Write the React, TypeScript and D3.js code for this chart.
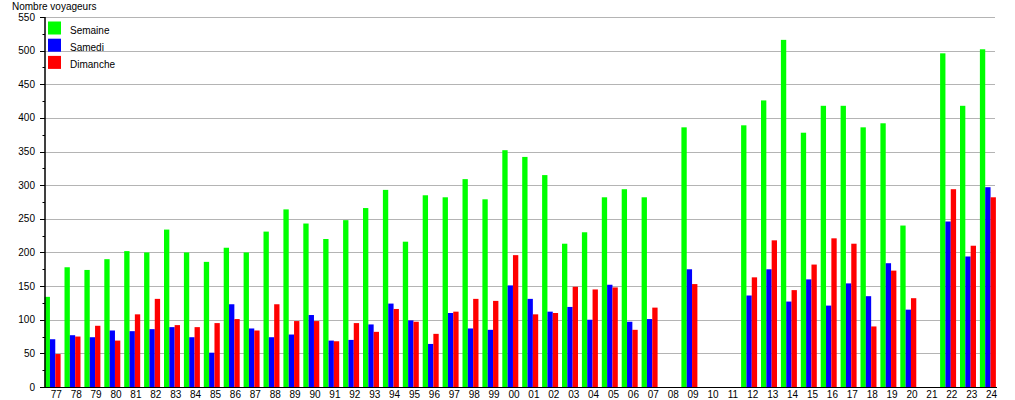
import React from "react";
import * as d3 from "d3";

const categories = ["77","78","79","80","81","82","83","84","85","86","87","88","89","90","91","92","93","94","95","96","97","98","99","00","01","02","03","04","05","06","07","08","09","10","11","12","13","14","15","16","17","18","19","20","21","22","23","24"];
const semaine: (number | null)[] = [134,178,174,190,202,200,234,200,186,207,200,231,264,243,220,248,266,293,216,285,282,309,279,352,342,315,213,230,282,294,282,null,386,null,null,389,426,516,378,418,418,386,392,240,null,496,418,502];
const samedi: (number | null)[] = [71,77,74,84,83,86,89,74,51,123,87,74,78,107,69,70,93,124,99,64,110,87,85,151,131,112,119,100,152,97,101,null,175,null,null,136,175,127,160,121,154,135,184,115,null,246,194,297];
const dimanche: (number | null)[] = [49,75,91,69,108,131,92,89,95,101,84,123,98,98,68,95,82,116,97,79,112,131,128,196,108,110,149,145,148,85,118,null,153,null,null,163,218,144,182,221,213,90,173,132,null,294,210,282];
const seriesNames = ["Semaine", "Samedi", "Dimanche"];
const seriesColors = ["#00ff00", "#0000ff", "#ff0000"];
const yTicks = [0,50,100,150,200,250,300,350,400,450,500,550];
const yMinorTicks = [25,75,125,175,225,275,325,375,425,475,525];

const W = 1015;
const H = 400;
const axisX = 45;
const axisY = 387;
const gridRight = 995;
const font = "'Liberation Sans', Arial, Helvetica, sans-serif";

export default function App() {
  const x = d3.scaleBand<string>().domain(categories).range([44.6, 44.6 + 19.9 * categories.length]).padding(0);
  const y = d3.scaleLinear().domain([0, 550]).range([axisY, 17]);
  const barW = 5.33;
  const allSeries = [semaine, samedi, dimanche];

  return (
    <svg width={W} height={H} style={{ position: "absolute", left: 0, top: 0, background: "#fff" }} fontFamily={font}>
      <rect x={0} y={0} width={W} height={H} fill="#fff" />
      {yTicks.filter((t) => t > 0).map((t) => (
        <line key={"g" + t} x1={axisX} x2={gridRight} y1={Math.round(y(t)) + 0.5} y2={Math.round(y(t)) + 0.5} stroke="#b4b4b4" strokeWidth={1} />
      ))}
      {allSeries.map((vals, si) =>
        categories.map((c, i) => {
          const v = vals[i];
          if (v == null) return null;
          const x0 = (x(c) as number) + si * barW;
          return <rect key={si + "-" + c} x={x0} y={y(v)} width={barW} height={axisY - y(v)} fill={seriesColors[si]} />;
        })
      )}
      {/* axes */}
      <line x1={axisX - 0.5 + 0.5} x2={axisX} y1={17} y2={axisY} stroke="#000" />
      <line x1={axisX} x2={axisX} y1={17} y2={axisY} stroke="#000" />
      <line x1={40} x2={997} y1={axisY + 0.5} y2={axisY + 0.5} stroke="#000" />
      {yTicks.map((t) => (
        <g key={"t" + t}>
          <line x1={40} x2={axisX} y1={Math.round(y(t)) + 0.5} y2={Math.round(y(t)) + 0.5} stroke="#000" />
          <text x={35} y={y(t)} dy="0.35em" textAnchor="end" fontSize={10} fill="#000">{t}</text>
        </g>
      ))}
      {yMinorTicks.map((t) => (
        <line key={"m" + t} x1={42.5} x2={axisX} y1={Math.round(y(t)) + 0.5} y2={Math.round(y(t)) + 0.5} stroke="#000" />
      ))}
      {categories.map((c) => (
        <text key={"l" + c} x={(x(c) as number) + 11.7} y={398} textAnchor="middle" fontSize={10} fill="#000">{c}</text>
      ))}
      <text x={12} y={10} fontSize={10} fill="#000">Nombre voyageurs</text>
      {seriesNames.map((n, i) => (
        <g key={n}>
          <rect x={48} y={21.5 + i * 17.2} width={13} height={13} fill={seriesColors[i]} />
          <text x={70} y={33.8 + i * 17.2} fontSize={10} fill="#000">{n}</text>
        </g>
      ))}
    </svg>
  );
}
